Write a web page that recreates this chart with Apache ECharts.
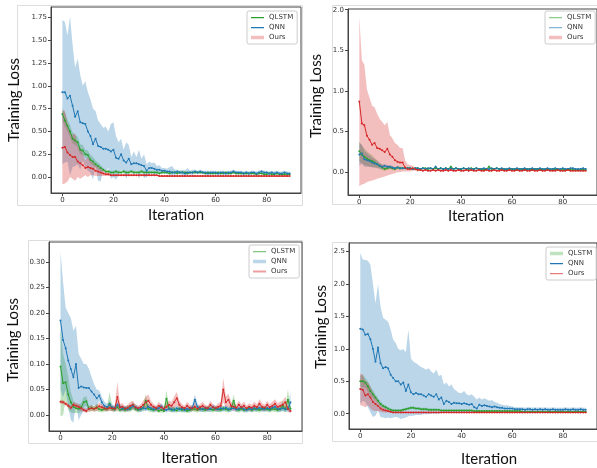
<!DOCTYPE html>
<html><head><meta charset="utf-8">
<script src="https://cdn.jsdelivr.net/npm/echarts@6/dist/echarts.min.js"></script>
<style>html,body{margin:0;padding:0;background:#fff}#c{width:597px;height:468px}</style>
</head><body><div id="c"></div>
<script>
// ---------- categories / ticks ----------
const iterations = Array.from({length: 90}, (_, i) => i);
const seriesNames = ['QLSTM', 'QNN', 'Ours'];
const xTicks = [0, 20, 40, 60, 80];
const p1YTicks = [0, 0.25, 0.5, 0.75, 1.0, 1.25, 1.5, 1.75];
const p2YTicks = [0, 0.5, 1.0, 1.5, 2.0];
const p3YTicks = [0, 0.05, 0.10, 0.15, 0.20, 0.25, 0.30];
const p4YTicks = [0, 0.5, 1.0, 1.5, 2.0, 2.5];

// ---------- Panel 1 (top-left) ----------
const p1QlstmMean = [0.69,0.62,0.56,0.50,0.42,0.40,0.38,0.30,0.29,0.25,0.24,0.19,0.17,0.14,0.12,0.10,0.08,0.06,0.06,0.05,0.05,0.06,0.05,0.05,0.06,0.05,0.05,0.06,0.05,0.05,0.05,0.06,0.05,0.05,0.05,0.05,0.05,0.05,0.04,0.05,0.05,0.05,0.04,0.05,0.05,0.04,0.05,0.05,0.05,0.04,0.05,0.05,0.05,0.05,0.05,0.05,0.04,0.05,0.04,0.04,0.04,0.05,0.04,0.04,0.05,0.04,0.04,0.05,0.04,0.04,0.04,0.04,0.04,0.04,0.04,0.04,0.03,0.04,0.04,0.03,0.03,0.04,0.03,0.03,0.04,0.03,0.03,0.03,0.03,0.03];
const p1QlstmLo = [0.62,0.55,0.50,0.44,0.37,0.35,0.33,0.25,0.24,0.21,0.20,0.15,0.13,0.11,0.09,0.07,0.06,0.04,0.04,0.04,0.04,0.04,0.04,0.04,0.04,0.04,0.04,0.04,0.04,0.04,0.04,0.04,0.04,0.04,0.04,0.04,0.04,0.04,0.03,0.04,0.04,0.04,0.03,0.04,0.04,0.03,0.04,0.04,0.04,0.03,0.04,0.04,0.04,0.04,0.04,0.04,0.03,0.04,0.03,0.03,0.03,0.04,0.03,0.03,0.04,0.03,0.03,0.04,0.03,0.03,0.03,0.03,0.03,0.03,0.03,0.03,0.02,0.03,0.03,0.02,0.02,0.03,0.02,0.02,0.03,0.02,0.02,0.02,0.02,0.02];
const p1QlstmHi = [0.76,0.70,0.63,0.57,0.49,0.46,0.44,0.36,0.35,0.30,0.29,0.24,0.22,0.18,0.16,0.13,0.10,0.08,0.08,0.07,0.07,0.08,0.07,0.07,0.08,0.07,0.07,0.08,0.07,0.07,0.07,0.08,0.07,0.07,0.07,0.07,0.07,0.07,0.06,0.07,0.07,0.07,0.06,0.07,0.07,0.06,0.07,0.07,0.07,0.06,0.06,0.06,0.06,0.06,0.06,0.06,0.05,0.06,0.05,0.05,0.05,0.06,0.05,0.05,0.06,0.05,0.05,0.06,0.05,0.05,0.05,0.05,0.05,0.05,0.05,0.05,0.04,0.05,0.05,0.04,0.04,0.05,0.04,0.04,0.05,0.04,0.04,0.04,0.04,0.04];
const p1QnnMean = [0.93,0.93,0.86,0.89,0.78,0.66,0.72,0.60,0.59,0.58,0.50,0.45,0.36,0.42,0.34,0.33,0.31,0.31,0.30,0.28,0.30,0.21,0.20,0.25,0.18,0.16,0.20,0.14,0.15,0.15,0.14,0.13,0.12,0.07,0.10,0.10,0.09,0.08,0.08,0.07,0.07,0.06,0.06,0.05,0.05,0.06,0.05,0.05,0.04,0.05,0.05,0.05,0.06,0.05,0.06,0.05,0.05,0.04,0.05,0.05,0.05,0.04,0.05,0.05,0.04,0.05,0.05,0.06,0.05,0.05,0.05,0.04,0.05,0.04,0.05,0.05,0.04,0.05,0.06,0.05,0.05,0.04,0.05,0.04,0.05,0.04,0.04,0.05,0.04,0.04];
const p1QnnLo = [0.14,0.16,0.17,0.02,0.11,0.12,0.14,0.08,0.18,0.11,0.07,0.05,-0.03,0.12,-0.04,-0.05,0.08,0.07,0.10,-0.02,0.00,-0.03,0.02,0.08,0.06,-0.02,0.05,0.06,0.02,0.08,-0.02,0.06,-0.01,0.00,0.03,0.05,0.02,0.04,0.03,0.04,0.04,0.03,0.03,0.02,0.02,0.04,0.03,0.02,0.01,0.03,0.03,0.02,0.04,0.03,0.04,0.03,0.03,0.02,0.03,0.03,0.03,0.02,0.03,0.03,0.02,0.03,0.03,0.04,0.03,0.03,0.03,0.02,0.03,0.02,0.03,0.03,0.02,0.03,0.04,0.03,0.03,0.02,0.03,0.02,0.03,0.02,0.02,0.03,0.02,0.02];
const p1QnnHi = [1.72,1.70,1.55,1.76,1.45,1.20,1.30,1.12,1.00,1.05,0.93,0.85,0.75,0.72,0.62,0.58,0.54,0.55,0.50,0.58,0.60,0.45,0.38,0.42,0.30,0.38,0.35,0.22,0.28,0.22,0.30,0.20,0.25,0.14,0.17,0.15,0.16,0.12,0.13,0.10,0.10,0.09,0.11,0.12,0.08,0.08,0.07,0.08,0.07,0.10,0.07,0.08,0.08,0.07,0.08,0.07,0.07,0.07,0.07,0.07,0.07,0.06,0.07,0.07,0.06,0.07,0.07,0.08,0.07,0.07,0.07,0.06,0.07,0.06,0.07,0.07,0.06,0.07,0.08,0.07,0.07,0.06,0.07,0.06,0.07,0.06,0.06,0.07,0.06,0.06];
const p1OursMean = [0.32,0.33,0.27,0.24,0.22,0.22,0.17,0.15,0.13,0.10,0.11,0.10,0.09,0.07,0.06,0.05,0.04,0.03,0.03,0.02,0.02,0.02,0.02,0.02,0.02,0.02,0.02,0.02,0.02,0.02,0.02,0.02,0.02,0.02,0.02,0.02,0.02,0.02,0.01,0.01,0.01,0.01,0.01,0.01,0.01,0.01,0.01,0.01,0.01,0.01,0.01,0.01,0.01,0.01,0.01,0.01,0.01,0.01,0.01,0.01,0.01,0.01,0.01,0.01,0.01,0.01,0.01,0.01,0.01,0.01,0.01,0.01,0.01,0.01,0.01,0.01,0.01,0.01,0.01,0.01,0.01,0.01,0.01,0.01,0.01,0.01,0.01,0.01,0.01,0.01];
const p1OursLo = [-0.08,-0.07,-0.05,0.00,-0.02,-0.04,0.00,-0.02,0.00,0.02,0.00,0.02,0.02,0.01,0.01,0.01,0.01,0.01,0.01,0.01,0.01,0.01,0.01,0.01,0.01,0.01,0.01,0.01,0.01,0.01,0.01,0.01,0.01,0.01,0.01,0.01,0.01,0.01,0.00,0.00,0.00,0.00,0.00,0.00,0.00,0.00,0.00,0.00,0.00,0.00,0.00,0.00,0.00,0.00,0.00,0.00,0.00,0.00,0.00,0.00,0.00,0.00,0.00,0.00,0.00,0.00,0.00,0.00,0.00,0.00,0.00,0.00,0.00,0.00,0.00,0.00,0.00,0.00,0.00,0.00,0.00,0.00,0.00,0.00,0.00,0.00,0.00,0.00,0.00,0.00];
const p1OursHi = [0.72,0.73,0.59,0.48,0.46,0.48,0.34,0.32,0.26,0.18,0.22,0.18,0.16,0.13,0.11,0.09,0.07,0.05,0.05,0.03,0.03,0.03,0.03,0.03,0.03,0.03,0.03,0.03,0.03,0.03,0.03,0.03,0.03,0.03,0.03,0.03,0.03,0.03,0.02,0.02,0.02,0.02,0.02,0.02,0.02,0.02,0.02,0.02,0.02,0.02,0.02,0.02,0.02,0.02,0.02,0.02,0.02,0.02,0.02,0.02,0.02,0.02,0.02,0.02,0.02,0.02,0.02,0.02,0.02,0.02,0.02,0.02,0.02,0.02,0.02,0.02,0.02,0.02,0.02,0.02,0.02,0.02,0.02,0.02,0.02,0.02,0.02,0.02,0.02,0.02];

// ---------- Panel 2 (top-right) ----------
const p2QlstmMean = [0.26,0.22,0.19,0.17,0.15,0.14,0.12,0.10,0.08,0.06,0.04,0.05,0.06,0.05,0.04,0.06,0.05,0.05,0.05,0.05,0.05,0.04,0.05,0.05,0.04,0.05,0.05,0.04,0.05,0.04,0.05,0.04,0.05,0.04,0.05,0.04,0.07,0.04,0.05,0.04,0.04,0.05,0.04,0.04,0.05,0.04,0.05,0.04,0.04,0.03,0.04,0.07,0.04,0.04,0.05,0.04,0.04,0.04,0.03,0.04,0.04,0.04,0.03,0.04,0.04,0.03,0.04,0.04,0.03,0.04,0.04,0.03,0.04,0.03,0.04,0.03,0.04,0.03,0.04,0.03,0.03,0.03,0.04,0.03,0.03,0.03,0.03,0.03,0.03,0.03];
const p2QlstmLo = [0.14,0.11,0.09,0.08,0.07,0.07,0.06,0.05,0.04,0.03,0.02,0.03,0.04,0.03,0.02,0.04,0.03,0.04,0.04,0.04,0.04,0.03,0.04,0.04,0.03,0.04,0.04,0.03,0.04,0.03,0.04,0.03,0.04,0.03,0.04,0.03,0.05,0.03,0.04,0.03,0.03,0.04,0.03,0.03,0.04,0.03,0.04,0.03,0.03,0.02,0.03,0.05,0.03,0.03,0.04,0.03,0.03,0.03,0.02,0.03,0.03,0.03,0.02,0.03,0.03,0.02,0.03,0.03,0.02,0.03,0.03,0.02,0.03,0.02,0.03,0.02,0.03,0.02,0.03,0.02,0.02,0.02,0.03,0.02,0.02,0.02,0.02,0.02,0.02,0.02];
const p2QlstmHi = [0.38,0.33,0.29,0.26,0.23,0.21,0.18,0.15,0.12,0.09,0.07,0.07,0.08,0.07,0.06,0.08,0.07,0.06,0.06,0.06,0.06,0.05,0.06,0.06,0.05,0.06,0.06,0.05,0.06,0.05,0.06,0.05,0.06,0.05,0.06,0.05,0.09,0.05,0.06,0.05,0.05,0.06,0.05,0.05,0.06,0.05,0.06,0.05,0.05,0.04,0.05,0.09,0.05,0.05,0.06,0.05,0.05,0.05,0.04,0.05,0.05,0.05,0.04,0.05,0.05,0.04,0.05,0.05,0.04,0.05,0.05,0.04,0.05,0.04,0.05,0.04,0.05,0.04,0.05,0.04,0.04,0.04,0.05,0.04,0.04,0.04,0.04,0.04,0.04,0.04];
const p2QnnMean = [0.22,0.23,0.16,0.15,0.14,0.12,0.11,0.10,0.08,0.07,0.08,0.07,0.07,0.06,0.05,0.06,0.05,0.05,0.05,0.05,0.05,0.04,0.05,0.05,0.04,0.05,0.04,0.05,0.05,0.04,0.07,0.04,0.05,0.04,0.05,0.04,0.05,0.04,0.05,0.04,0.04,0.05,0.04,0.05,0.04,0.04,0.05,0.04,0.04,0.05,0.04,0.04,0.05,0.04,0.05,0.04,0.05,0.04,0.04,0.05,0.04,0.04,0.05,0.04,0.04,0.05,0.04,0.04,0.05,0.04,0.04,0.05,0.04,0.04,0.05,0.04,0.04,0.05,0.04,0.04,0.05,0.04,0.04,0.05,0.05,0.04,0.04,0.04,0.05,0.04];
const p2QnnLo = [0.08,0.11,0.07,0.07,0.07,0.06,0.06,0.06,0.05,0.04,0.06,0.05,0.05,0.04,0.04,0.05,0.04,0.04,0.04,0.04,0.04,0.03,0.04,0.04,0.03,0.04,0.03,0.04,0.04,0.03,0.05,0.03,0.04,0.03,0.04,0.03,0.04,0.03,0.04,0.03,0.03,0.04,0.03,0.04,0.03,0.03,0.04,0.03,0.03,0.04,0.03,0.03,0.04,0.03,0.04,0.03,0.04,0.03,0.03,0.04,0.03,0.03,0.04,0.03,0.03,0.04,0.03,0.03,0.04,0.03,0.03,0.04,0.03,0.03,0.04,0.03,0.03,0.04,0.03,0.03,0.04,0.03,0.03,0.04,0.04,0.03,0.03,0.03,0.04,0.03];
const p2QnnHi = [0.36,0.34,0.26,0.23,0.21,0.18,0.16,0.14,0.11,0.10,0.10,0.09,0.09,0.08,0.06,0.07,0.06,0.06,0.06,0.06,0.06,0.05,0.06,0.06,0.05,0.06,0.05,0.06,0.06,0.05,0.09,0.05,0.06,0.05,0.06,0.05,0.06,0.05,0.06,0.05,0.05,0.06,0.05,0.06,0.05,0.05,0.06,0.05,0.05,0.06,0.05,0.05,0.06,0.05,0.06,0.05,0.06,0.05,0.05,0.06,0.05,0.05,0.06,0.05,0.05,0.06,0.05,0.05,0.06,0.05,0.05,0.06,0.05,0.05,0.06,0.05,0.05,0.06,0.05,0.05,0.06,0.05,0.05,0.06,0.06,0.05,0.05,0.05,0.06,0.05];
const p2OursMean = [0.87,0.60,0.58,0.45,0.40,0.34,0.36,0.30,0.29,0.27,0.25,0.29,0.22,0.19,0.15,0.13,0.12,0.12,0.06,0.04,0.04,0.05,0.04,0.03,0.03,0.02,0.03,0.02,0.02,0.03,0.02,0.03,0.02,0.02,0.03,0.02,0.03,0.02,0.02,0.03,0.02,0.02,0.03,0.02,0.03,0.02,0.02,0.03,0.02,0.02,0.03,0.02,0.02,0.03,0.02,0.02,0.03,0.02,0.02,0.03,0.02,0.02,0.03,0.02,0.02,0.03,0.02,0.02,0.03,0.02,0.02,0.03,0.02,0.02,0.03,0.02,0.02,0.02,0.03,0.02,0.02,0.02,0.03,0.02,0.02,0.02,0.02,0.02,0.02,0.02];
const p2OursLo = [-0.17,-0.15,-0.14,-0.12,-0.11,-0.10,-0.09,-0.08,-0.07,-0.06,-0.05,-0.04,-0.03,-0.02,-0.01,0.00,0.00,0.01,0.01,0.01,0.01,0.02,0.02,0.01,0.02,0.01,0.02,0.01,0.01,0.02,0.01,0.02,0.01,0.01,0.02,0.01,0.02,0.01,0.01,0.02,0.01,0.01,0.02,0.01,0.02,0.01,0.01,0.02,0.01,0.01,0.02,0.01,0.01,0.02,0.01,0.01,0.02,0.01,0.01,0.02,0.01,0.01,0.02,0.01,0.01,0.02,0.01,0.01,0.02,0.01,0.01,0.02,0.01,0.01,0.02,0.01,0.01,0.01,0.02,0.01,0.01,0.01,0.02,0.01,0.01,0.01,0.01,0.01,0.01,0.01];
const p2OursHi = [1.91,1.38,1.32,1.02,0.92,0.82,0.80,0.72,0.66,0.62,0.58,0.62,0.46,0.42,0.36,0.34,0.30,0.30,0.15,0.10,0.09,0.08,0.06,0.05,0.04,0.03,0.04,0.03,0.03,0.04,0.03,0.04,0.03,0.03,0.04,0.03,0.04,0.03,0.03,0.04,0.03,0.03,0.04,0.03,0.04,0.03,0.03,0.04,0.03,0.03,0.04,0.03,0.03,0.04,0.03,0.03,0.04,0.03,0.03,0.04,0.03,0.03,0.04,0.03,0.03,0.04,0.03,0.03,0.04,0.03,0.03,0.04,0.03,0.03,0.04,0.03,0.03,0.03,0.04,0.03,0.03,0.03,0.04,0.03,0.03,0.03,0.03,0.03,0.03,0.03];

// ---------- Panel 3 (bottom-left) ----------
const p3QlstmMean = [0.095,0.062,0.064,0.040,0.025,0.016,0.013,0.012,0.015,0.025,0.027,0.012,0.014,0.012,0.015,0.011,0.010,0.012,0.012,0.022,0.012,0.011,0.015,0.010,0.012,0.010,0.014,0.011,0.018,0.012,0.010,0.011,0.013,0.028,0.012,0.011,0.010,0.012,0.008,0.010,0.008,0.032,0.012,0.010,0.011,0.009,0.012,0.010,0.011,0.008,0.010,0.012,0.011,0.010,0.012,0.011,0.010,0.013,0.011,0.010,0.012,0.011,0.010,0.013,0.011,0.010,0.012,0.028,0.011,0.010,0.012,0.010,0.011,0.013,0.010,0.012,0.011,0.010,0.012,0.013,0.011,0.010,0.012,0.011,0.010,0.012,0.018,0.011,0.030,0.012];
const p3QlstmLo = [-0.003,0.000,0.030,0.010,0.005,0.004,0.004,0.004,0.006,0.015,0.018,0.006,0.008,0.007,0.008,0.006,0.005,0.007,0.007,0.009,0.007,0.006,0.008,0.005,0.007,0.005,0.008,0.006,0.010,0.007,0.005,0.006,0.008,0.014,0.007,0.006,0.005,0.007,0.004,0.005,0.004,0.016,0.007,0.005,0.006,0.005,0.007,0.005,0.006,0.004,0.005,0.007,0.006,0.005,0.007,0.006,0.005,0.008,0.006,0.005,0.007,0.006,0.005,0.008,0.006,0.005,0.007,0.016,0.006,0.005,0.007,0.005,0.006,0.008,0.005,0.007,0.006,0.005,0.007,0.008,0.006,0.005,0.007,0.006,0.005,0.007,0.008,0.006,0.012,0.007];
const p3QlstmHi = [0.170,0.120,0.100,0.075,0.045,0.028,0.022,0.020,0.024,0.035,0.036,0.018,0.020,0.017,0.022,0.016,0.015,0.017,0.017,0.045,0.017,0.016,0.022,0.015,0.017,0.015,0.020,0.016,0.026,0.017,0.015,0.016,0.018,0.040,0.017,0.016,0.015,0.017,0.012,0.015,0.012,0.048,0.017,0.015,0.016,0.013,0.017,0.015,0.016,0.012,0.015,0.017,0.016,0.015,0.017,0.016,0.015,0.018,0.016,0.015,0.017,0.016,0.015,0.018,0.016,0.015,0.017,0.040,0.016,0.015,0.017,0.015,0.016,0.018,0.015,0.017,0.016,0.015,0.017,0.018,0.016,0.015,0.017,0.016,0.015,0.017,0.028,0.016,0.050,0.017];
const p3QnnMean = [0.185,0.147,0.131,0.107,0.090,0.074,0.100,0.053,0.056,0.054,0.053,0.053,0.046,0.040,0.033,0.038,0.025,0.018,0.015,0.020,0.015,0.013,0.020,0.015,0.012,0.013,0.011,0.014,0.017,0.015,0.012,0.011,0.014,0.012,0.016,0.013,0.011,0.012,0.013,0.017,0.011,0.010,0.012,0.011,0.010,0.013,0.011,0.012,0.010,0.012,0.011,0.014,0.030,0.016,0.012,0.011,0.013,0.011,0.012,0.015,0.012,0.011,0.013,0.012,0.014,0.011,0.012,0.013,0.011,0.012,0.014,0.011,0.010,0.012,0.011,0.013,0.012,0.014,0.012,0.011,0.013,0.012,0.014,0.016,0.012,0.011,0.013,0.011,0.012,0.025];
const p3QnnLo = [0.050,0.035,0.050,0.015,-0.010,-0.015,0.025,-0.010,0.000,0.008,0.005,0.015,0.016,0.020,0.016,0.028,0.015,0.010,0.008,0.013,0.009,0.007,0.014,0.009,0.007,0.008,0.006,0.009,0.011,0.009,0.007,0.006,0.009,0.007,0.010,0.008,0.006,0.007,0.008,0.011,0.006,0.005,0.007,0.006,0.005,0.008,0.006,0.007,0.005,0.007,0.006,0.008,0.020,0.010,0.007,0.006,0.008,0.006,0.007,0.009,0.007,0.006,0.008,0.007,0.009,0.006,0.007,0.008,0.006,0.007,0.009,0.006,0.005,0.007,0.006,0.008,0.007,0.009,0.007,0.006,0.008,0.007,0.009,0.010,0.007,0.006,0.008,0.006,0.007,0.005];
const p3QnnHi = [0.320,0.260,0.210,0.200,0.190,0.165,0.175,0.120,0.110,0.100,0.100,0.090,0.075,0.060,0.050,0.048,0.035,0.026,0.022,0.027,0.021,0.019,0.026,0.021,0.017,0.018,0.016,0.019,0.023,0.021,0.017,0.016,0.019,0.017,0.022,0.018,0.016,0.017,0.018,0.023,0.016,0.015,0.017,0.016,0.015,0.018,0.016,0.017,0.015,0.017,0.016,0.020,0.040,0.022,0.017,0.016,0.018,0.016,0.017,0.021,0.017,0.016,0.018,0.017,0.019,0.016,0.017,0.018,0.016,0.017,0.019,0.016,0.015,0.017,0.016,0.018,0.017,0.019,0.017,0.016,0.018,0.017,0.019,0.022,0.017,0.016,0.018,0.016,0.017,0.045];
const p3OursMean = [0.026,0.025,0.022,0.018,0.014,0.020,0.018,0.016,0.013,0.010,0.008,0.012,0.013,0.012,0.014,0.017,0.015,0.013,0.012,0.014,0.013,0.012,0.035,0.015,0.016,0.012,0.014,0.018,0.020,0.015,0.013,0.015,0.020,0.025,0.028,0.020,0.016,0.013,0.018,0.015,0.012,0.016,0.020,0.018,0.025,0.033,0.020,0.015,0.013,0.018,0.014,0.013,0.016,0.012,0.015,0.018,0.014,0.013,0.020,0.015,0.013,0.016,0.018,0.050,0.025,0.030,0.018,0.016,0.014,0.020,0.015,0.018,0.013,0.016,0.014,0.018,0.015,0.022,0.016,0.014,0.020,0.015,0.018,0.022,0.016,0.018,0.020,0.025,0.012,0.008];
const p3OursLo = [0.022,0.021,0.018,0.014,0.010,0.015,0.012,0.010,0.008,0.006,0.004,0.007,0.008,0.007,0.008,0.010,0.009,0.008,0.007,0.008,0.008,0.007,0.010,0.008,0.009,0.007,0.008,0.010,0.012,0.009,0.008,0.009,0.012,0.014,0.016,0.012,0.010,0.008,0.010,0.009,0.007,0.009,0.012,0.010,0.014,0.018,0.012,0.009,0.008,0.010,0.008,0.008,0.009,0.007,0.009,0.010,0.008,0.008,0.012,0.009,0.008,0.009,0.010,0.025,0.014,0.016,0.010,0.009,0.008,0.012,0.009,0.010,0.008,0.009,0.008,0.010,0.009,0.013,0.009,0.008,0.012,0.009,0.010,0.013,0.009,0.010,0.012,0.014,0.006,0.004];
const p3OursHi = [0.030,0.029,0.026,0.022,0.018,0.025,0.024,0.022,0.018,0.014,0.012,0.017,0.018,0.017,0.020,0.024,0.021,0.018,0.017,0.020,0.018,0.017,0.065,0.022,0.023,0.017,0.020,0.026,0.028,0.021,0.018,0.021,0.028,0.036,0.040,0.028,0.022,0.018,0.026,0.021,0.017,0.023,0.028,0.026,0.036,0.045,0.028,0.021,0.018,0.026,0.020,0.018,0.023,0.017,0.021,0.026,0.020,0.018,0.028,0.021,0.018,0.023,0.026,0.072,0.036,0.042,0.026,0.023,0.020,0.028,0.021,0.026,0.018,0.023,0.020,0.026,0.021,0.031,0.023,0.020,0.028,0.021,0.026,0.031,0.023,0.026,0.028,0.036,0.018,0.012];

// ---------- Panel 4 (bottom-right) ----------
const p4QlstmMean = [0.50,0.50,0.48,0.42,0.35,0.30,0.25,0.20,0.15,0.12,0.10,0.08,0.06,0.05,0.05,0.05,0.05,0.06,0.07,0.08,0.09,0.09,0.08,0.08,0.07,0.07,0.07,0.06,0.06,0.06,0.06,0.06,0.05,0.05,0.05,0.05,0.05,0.05,0.05,0.05,0.05,0.05,0.05,0.05,0.05,0.04,0.04,0.04,0.04,0.04,0.04,0.04,0.04,0.04,0.04,0.04,0.04,0.04,0.04,0.04,0.04,0.04,0.04,0.04,0.03,0.03,0.03,0.03,0.03,0.03,0.03,0.03,0.03,0.03,0.03,0.03,0.03,0.03,0.03,0.03,0.03,0.03,0.03,0.03,0.03,0.03,0.03,0.03,0.03,0.03];
const p4QlstmLo = [0.42,0.40,0.41,0.34,0.28,0.24,0.20,0.16,0.11,0.09,0.07,0.06,0.04,0.03,0.03,0.03,0.03,0.04,0.05,0.06,0.07,0.07,0.06,0.06,0.05,0.05,0.05,0.04,0.04,0.04,0.045,0.045,0.035,0.035,0.035,0.035,0.035,0.035,0.035,0.035,0.035,0.035,0.035,0.035,0.035,0.025,0.025,0.025,0.025,0.025,0.025,0.025,0.025,0.025,0.025,0.025,0.025,0.025,0.025,0.025,0.025,0.025,0.025,0.025,0.015,0.015,0.015,0.015,0.015,0.015,0.015,0.015,0.015,0.015,0.015,0.015,0.015,0.015,0.015,0.015,0.015,0.015,0.015,0.015,0.015,0.015,0.015,0.015,0.015,0.015];
const p4QlstmHi = [0.58,0.60,0.55,0.50,0.42,0.36,0.30,0.24,0.19,0.15,0.13,0.10,0.08,0.07,0.07,0.07,0.07,0.08,0.09,0.10,0.11,0.11,0.10,0.10,0.09,0.09,0.09,0.08,0.08,0.08,0.075,0.075,0.065,0.065,0.065,0.065,0.065,0.065,0.065,0.065,0.065,0.065,0.065,0.065,0.065,0.055,0.055,0.055,0.055,0.055,0.055,0.055,0.055,0.055,0.055,0.055,0.055,0.055,0.055,0.055,0.055,0.055,0.055,0.055,0.045,0.045,0.045,0.045,0.045,0.045,0.045,0.045,0.045,0.045,0.045,0.045,0.045,0.045,0.045,0.045,0.045,0.045,0.045,0.045,0.045,0.045,0.045,0.045,0.045,0.045];
const p4QnnMean = [1.31,1.30,1.22,1.23,1.15,1.00,0.80,1.02,0.78,0.70,0.72,0.70,0.60,0.55,0.50,0.50,0.45,0.48,0.35,0.45,0.33,0.30,0.32,0.30,0.30,0.28,0.26,0.30,0.28,0.26,0.30,0.22,0.25,0.15,0.20,0.18,0.15,0.17,0.16,0.16,0.15,0.16,0.15,0.14,0.15,0.10,0.08,0.14,0.12,0.13,0.12,0.11,0.10,0.11,0.10,0.09,0.09,0.08,0.08,0.08,0.08,0.07,0.07,0.07,0.07,0.06,0.07,0.07,0.06,0.07,0.06,0.07,0.06,0.07,0.06,0.06,0.07,0.06,0.06,0.06,0.06,0.07,0.06,0.06,0.07,0.06,0.06,0.07,0.06,0.06];
const p4QnnLo = [0.15,0.20,0.18,0.10,0.02,-0.05,-0.03,0.05,-0.05,-0.06,-0.07,-0.06,-0.07,-0.06,-0.05,-0.06,-0.08,-0.07,-0.06,-0.04,-0.03,-0.03,-0.02,-0.02,-0.02,-0.01,-0.01,-0.01,0.00,0.00,0.00,0.00,0.01,0.01,0.01,0.01,0.02,0.02,0.02,0.02,0.02,0.02,0.02,0.02,0.02,0.02,0.02,0.02,0.03,0.03,0.03,0.03,0.03,0.03,0.03,0.03,0.03,0.03,0.03,0.03,0.03,0.03,0.03,0.03,0.03,0.03,0.03,0.03,0.03,0.03,0.03,0.03,0.03,0.03,0.03,0.03,0.03,0.03,0.03,0.03,0.03,0.03,0.03,0.03,0.03,0.03,0.03,0.03,0.03,0.03];
const p4QnnHi = [2.48,2.38,2.37,2.36,2.30,2.00,1.70,2.00,1.65,1.48,1.45,1.42,1.30,1.14,1.09,1.00,0.98,1.00,0.95,1.30,0.85,0.80,0.78,0.75,0.72,0.70,0.68,0.70,0.65,0.62,0.68,0.58,0.60,0.45,0.48,0.42,0.45,0.38,0.35,0.32,0.32,0.35,0.30,0.28,0.30,0.26,0.22,0.25,0.22,0.24,0.22,0.20,0.21,0.18,0.17,0.15,0.14,0.13,0.13,0.12,0.11,0.10,0.10,0.10,0.10,0.09,0.10,0.10,0.09,0.10,0.09,0.10,0.09,0.10,0.09,0.09,0.10,0.09,0.09,0.09,0.09,0.10,0.09,0.09,0.10,0.09,0.09,0.10,0.09,0.09];
const p4OursMean = [0.38,0.37,0.28,0.30,0.25,0.18,0.15,0.12,0.08,0.06,0.05,0.04,0.03,0.02,0.02,0.02,0.02,0.02,0.02,0.02,0.02,0.02,0.02,0.02,0.02,0.02,0.02,0.02,0.02,0.02,0.02,0.02,0.02,0.02,0.02,0.02,0.02,0.02,0.02,0.02,0.02,0.02,0.02,0.02,0.02,0.02,0.02,0.02,0.02,0.02,0.02,0.02,0.02,0.02,0.02,0.02,0.02,0.02,0.02,0.02,0.02,0.02,0.02,0.02,0.02,0.02,0.02,0.02,0.02,0.02,0.02,0.02,0.02,0.02,0.02,0.02,0.02,0.02,0.02,0.02,0.02,0.02,0.02,0.02,0.02,0.02,0.02,0.02,0.02,0.02];
const p4OursLo = [0.13,0.12,0.10,0.13,0.08,0.05,0.04,0.04,0.03,0.02,0.02,0.02,0.01,0.01,0.01,0.01,0.01,0.01,0.01,0.01,0.01,0.01,0.01,0.01,0.01,0.01,0.01,0.01,0.01,0.01,0.01,0.01,0.01,0.01,0.01,0.01,0.01,0.01,0.01,0.01,0.01,0.01,0.01,0.01,0.01,0.01,0.01,0.01,0.01,0.01,0.01,0.01,0.01,0.01,0.01,0.01,0.01,0.01,0.01,0.01,0.01,0.01,0.01,0.01,0.01,0.01,0.01,0.01,0.01,0.01,0.01,0.01,0.01,0.01,0.01,0.01,0.01,0.01,0.01,0.01,0.01,0.01,0.01,0.01,0.01,0.01,0.01,0.01,0.01,0.01];
const p4OursHi = [0.62,0.60,0.50,0.48,0.42,0.32,0.26,0.20,0.13,0.10,0.08,0.06,0.05,0.03,0.03,0.03,0.03,0.03,0.03,0.03,0.03,0.03,0.03,0.03,0.03,0.03,0.03,0.03,0.03,0.03,0.03,0.03,0.03,0.03,0.03,0.03,0.03,0.03,0.03,0.03,0.03,0.03,0.03,0.03,0.03,0.03,0.03,0.03,0.03,0.03,0.03,0.03,0.03,0.03,0.03,0.03,0.03,0.03,0.03,0.03,0.03,0.03,0.03,0.03,0.03,0.03,0.03,0.03,0.03,0.03,0.03,0.03,0.03,0.03,0.03,0.03,0.03,0.03,0.03,0.03,0.03,0.03,0.03,0.03,0.03,0.03,0.03,0.03,0.03,0.03];

// ---------- styling ----------
const COLORS = {QLSTM: '#2ca02c', QNN: '#1f77b4', Ours: '#d62728'};
const FONT_TICK = 'DejaVu Sans';
const FONT_TITLE = 'Lato';
// legend icons: a horizontal stroke centred in a 13x7 box (thin / medium / thick)
const ICON_THIN = 'path://M0,0L13,0L13,0.01ZM0,3H13V4.2H0ZM0,7L13,7L13,7.01Z';
const ICON_MED = 'path://M0,0L13,0L13,0.01ZM0,2.6H13V4.6H0ZM0,7L13,7L13,7.01Z';
const ICON_THICK = 'path://M0,0L13,0L13,0.01ZM0,1.7H13V5.3H0ZM0,7L13,7L13,7.01Z';

const panels = [
  { grid: {left: 51, top: 7, width: 250, height: 186}, y: [-0.175, 1.863], yTicks: p1YTicks, dec: 2,
    xGap: 15, xPad: [0,0,0,0], yGap: 29, yPad: [0,0,0,0],
    legend: {left: 247, top: 11},
    legendIcons: [[ICON_THIN, 1], [ICON_THIN, 1], [ICON_THICK, 0.3]],
    data: {QLSTM: [p1QlstmMean, p1QlstmLo, p1QlstmHi], QNN: [p1QnnMean, p1QnnLo, p1QnnHi], Ours: [p1OursMean, p1OursLo, p1OursHi]} },
  { grid: {left: 348, top: 9, width: 249, height: 186}, y: [-0.279, 2.009], yTicks: p2YTicks, dec: 1,
    xGap: 14, xPad: [0,0,0,7], yGap: 24, yPad: [0,0,0,12],
    legend: {left: 545, top: 11},
    legendIcons: [[ICON_THIN, 0.55], [ICON_THIN, 0.55], [ICON_THICK, 0.3]],
    data: {QLSTM: [p2QlstmMean, p2QlstmLo, p2QlstmHi], QNN: [p2QnnMean, p2QnnLo, p2QnnHi], Ours: [p2OursMean, p2OursLo, p2OursHi]} },
  { grid: {left: 49, top: 242, width: 253, height: 189}, y: [-0.0314, 0.339], yTicks: p3YTicks, dec: 2,
    xGap: 20, xPad: [0,0,0,28], yGap: 28, yPad: [0,7,0,0],
    legend: {left: 249, top: 245},
    legendIcons: [[ICON_THIN, 0.6], [ICON_THICK, 0.3], [ICON_MED, 0.45]],
    data: {QLSTM: [p3QlstmMean, p3QlstmLo, p3QlstmHi], QNN: [p3QnnMean, p3QnnLo, p3QnnHi], Ours: [p3OursMean, p3OursLo, p3OursHi]} },
  { grid: {left: 349, top: 243, width: 248, height: 186}, y: [-0.236, 2.634], yTicks: p4YTicks, dec: 1,
    xGap: 23, xPad: [0,0,0,32], yGap: 20, yPad: [0,0,0,18],
    legend: {left: 546, top: 247},
    legendIcons: [[ICON_THICK, 0.3], [ICON_THIN, 1], [ICON_THIN, 0.6]],
    data: {QLSTM: [p4QlstmMean, p4QlstmLo, p4QlstmHi], QNN: [p4QnnMean, p4QnnLo, p4QnnHi], Ours: [p4OursMean, p4OursLo, p4OursHi]} }
];

function bandSeries(g, name, lo, hi) {
  return {
    type: 'custom', name: 'band-' + g + '-' + name, xAxisIndex: g, yAxisIndex: g,
    data: iterations.map((x, i) => [x, lo[i], hi[i]]),
    encode: {x: 0, y: [1, 2]},
    silent: true, z: 1, clip: true,
    renderItem: (params, api) => {
      if (params.dataIndex !== 0) return null;
      const pts = [];
      for (let i = 0; i < iterations.length; i++) pts.push(api.coord([iterations[i], hi[i]]));
      for (let i = iterations.length - 1; i >= 0; i--) pts.push(api.coord([iterations[i], lo[i]]));
      return {type: 'polygon', shape: {points: pts}, style: {fill: COLORS[name], opacity: 0.3, stroke: null}, silent: true};
    }
  };
}

const grids = [], xAxes = [], yAxes = [], series = [], legends = [];
panels.forEach((p, g) => {
  grids.push(Object.assign({show: true, borderColor: '#444', borderWidth: 1, backgroundColor: 'transparent'}, p.grid));
  xAxes.push({
    type: 'value', gridIndex: g, min: -4.45, max: 93.45,
    name: 'Iteration', nameLocation: 'middle', nameGap: p.xGap,
    nameTextStyle: {fontFamily: FONT_TITLE, fontSize: 15, color: '#111', padding: p.xPad},
    axisLine: {show: true, onZero: false, lineStyle: {color: '#444', width: 1}},
    axisTick: {show: true, length: 3, lineStyle: {color: '#444'}, customValues: xTicks},
    axisLabel: {fontFamily: FONT_TICK, fontSize: 7, color: '#333', margin: 4, customValues: xTicks, formatter: v => String(v)},
    splitLine: {show: false}
  });
  yAxes.push({
    type: 'value', gridIndex: g, min: p.y[0], max: p.y[1],
    name: 'Training Loss', nameLocation: 'middle', nameGap: p.yGap, nameRotate: 90,
    nameTextStyle: {fontFamily: FONT_TITLE, fontSize: 15, color: '#111', padding: p.yPad},
    axisLine: {show: true, onZero: false, lineStyle: {color: '#444', width: 1}},
    axisTick: {show: true, length: 3, lineStyle: {color: '#444'}, customValues: p.yTicks},
    axisLabel: {fontFamily: FONT_TICK, fontSize: 7, color: '#333', margin: 4, customValues: p.yTicks, formatter: v => v.toFixed(p.dec)},
    splitLine: {show: false}
  });
  seriesNames.forEach(name => {
    const [mean, lo, hi] = p.data[name];
    series.push(bandSeries(g, name, lo, hi));
  });
  seriesNames.forEach(name => {
    const [mean] = p.data[name];
    series.push({
      type: 'line', name: name, xAxisIndex: g, yAxisIndex: g, color: COLORS[name],
      data: mean.map((v, i) => [iterations[i], v]),
      symbol: 'circle', symbolSize: 2, showSymbol: true,
      itemStyle: {color: COLORS[name]}, lineStyle: {color: COLORS[name], width: 1}, z: 3
    });
  });
  legends.push({
    orient: 'vertical', left: p.legend.left, top: p.legend.top,
    padding: [3, 4, 3, 4], itemGap: 3, itemWidth: 13, itemHeight: 7,
    symbolKeepAspect: false,
    backgroundColor: '#fff', borderColor: '#ccc', borderWidth: 1, borderRadius: 2,
    textStyle: {fontFamily: FONT_TICK, fontSize: 7, color: '#333'},
    selectedMode: false,
    data: seriesNames.map((n, k) => ({
      name: n,
      icon: p.legendIcons[k][0],
      itemStyle: {color: COLORS[n], opacity: p.legendIcons[k][1], borderWidth: 0, borderColor: 'transparent'}
    }))
  });
});

const frame = (x, y, w, h) => ({type: 'rect', shape: {x, y, width: w, height: h}, style: {fill: 'none', stroke: '#ddd', lineWidth: 1}, silent: true, z: -10});

const chart = echarts.init(document.getElementById('c'), null, {renderer: 'canvas', width: 597, height: 468});
chart.setOption({
  animation: false,
  backgroundColor: '#fff',
  grid: grids, xAxis: xAxes, yAxis: yAxes, series: series, legend: legends,
  graphic: [frame(17.5, 5.5, 285, 200), frame(332.5, 5.5, 270, 199), frame(28.5, 240.5, 274, 203), frame(332.5, 242.5, 270, 199)]
});
</script></body></html>
